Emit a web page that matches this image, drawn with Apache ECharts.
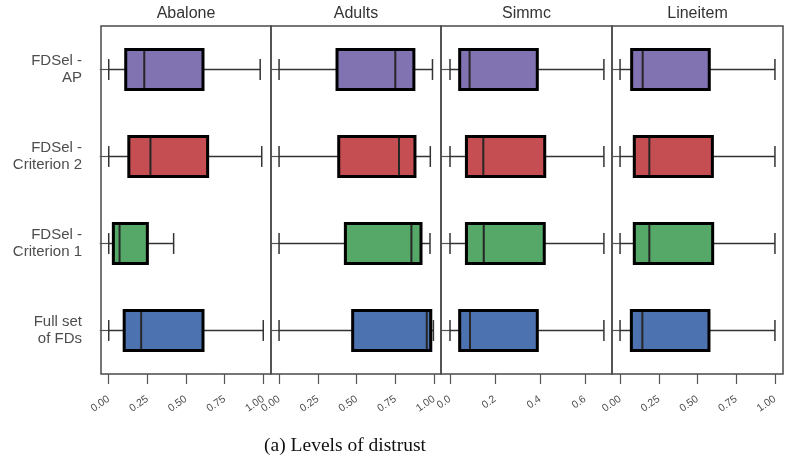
<!DOCTYPE html>
<html><head><meta charset="utf-8">
<script src="https://cdn.jsdelivr.net/npm/echarts@6/dist/echarts.min.js"></script>
<style>html,body{margin:0;padding:0;background:#fff}#c{width:786px;height:471px}</style>
</head><body><div id="c"></div>
<script>
const panels = ["Abalone", "Adults", "Simmc", "Lineitem"];
const categories = ["FDSel -\nAP", "FDSel -\nCriterion 2", "FDSel -\nCriterion 1", "Full set\nof FDs"];
// each row: [low whisker, Q1, median, Q3, high whisker], in category order
const abalone = [[0, 0.11, 0.23, 0.61, 0.98], [0, 0.13, 0.27, 0.64, 0.99], [0, 0.03, 0.07, 0.25, 0.42], [0, 0.10, 0.21, 0.61, 1.0]];
const adults = [[0, 0.374, 0.75, 0.87, 0.99], [0, 0.385, 0.774, 0.877, 0.976], [0, 0.428, 0.854, 0.916, 0.974], [0, 0.475, 0.953, 0.979, 0.996]];
const simmc = [[0, 0.043, 0.087, 0.388, 0.684], [0, 0.073, 0.148, 0.421, 0.684], [0, 0.073, 0.15, 0.419, 0.684], [0, 0.043, 0.089, 0.388, 0.684]];
const lineitem = [[0, 0.075, 0.146, 0.576, 1.0], [0, 0.092, 0.189, 0.596, 1.0], [0, 0.092, 0.189, 0.598, 1.0], [0, 0.073, 0.144, 0.574, 1.0]];
const tickValuesUnit = [0, 0.25, 0.5, 0.75, 1];
const tickLabelsUnit = ["0.00", "0.25", "0.50", "0.75", "1.00"];
const tickValuesSimmc = [0, 0.2, 0.4, 0.6];
const tickLabelsSimmc = ["0.0", "0.2", "0.4", "0.6"];
const colors = ["#8172b2", "#c44e52", "#55a868", "#4c72b0"];
const caption = "(a) Levels of distrust";

const panelData = [abalone, adults, simmc, lineitem];
const panelTicks = [[tickValuesUnit, tickLabelsUnit], [tickValuesUnit, tickLabelsUnit], [tickValuesSimmc, tickLabelsSimmc], [tickValuesUnit, tickLabelsUnit]];
const layout = [
  {left: 101, width: 170, min: -0.05, max: 1.05},
  {left: 271, width: 170, min: -0.052, max: 1.045},
  {left: 441, width: 171, min: -0.04, max: 0.72},
  {left: 612, width: 171, min: -0.052, max: 1.052}
];
const TOP = 26, HEIGHT = 348;

function renderItem(params, api) {
  const ci = api.value(0);
  const vals = [api.value(1), api.value(2), api.value(3), api.value(4), api.value(5)];
  const xs = vals.map(v => api.coord([v, ci])[0]);
  const cy = api.coord([vals[0], ci])[1];
  const band = api.size([0, 1])[1];
  const bh = band * 0.46, ch = band * 0.24;
  const ws = {stroke: '#333', lineWidth: 1.5};
  return {
    type: 'group',
    children: [
      {type: 'line', shape: {x1: xs[0], y1: cy, x2: xs[1], y2: cy}, style: ws},
      {type: 'line', shape: {x1: xs[3], y1: cy, x2: xs[4], y2: cy}, style: ws},
      {type: 'line', shape: {x1: xs[0], y1: cy - ch / 2, x2: xs[0], y2: cy + ch / 2}, style: ws},
      {type: 'line', shape: {x1: xs[4], y1: cy - ch / 2, x2: xs[4], y2: cy + ch / 2}, style: ws},
      {type: 'rect', shape: {x: xs[1], y: cy - bh / 2, width: xs[3] - xs[1], height: bh},
        style: {fill: colors[ci], stroke: '#000', lineWidth: 3}},
      {type: 'line', shape: {x1: xs[2], y1: cy - bh / 2 + 1.5, x2: xs[2], y2: cy + bh / 2 - 1.5},
        style: {stroke: '#262626', lineWidth: 2}}
    ]
  };
}

const grids = [], xAxes = [], yAxes = [], series = [], graphics = [];
panels.forEach((name, i) => {
  const L = layout[i];
  grids.push({left: L.left, top: TOP, width: L.width, height: HEIGHT, show: true,
    borderColor: '#4a4a4a', borderWidth: 1.5, backgroundColor: 'transparent'});
  const [tv, tl] = panelTicks[i];
  xAxes.push({
    type: 'value', gridIndex: i, min: L.min, max: L.max,
    axisLine: {show: false}, splitLine: {show: false},
    axisTick: {show: true, length: 10, customValues: tv, lineStyle: {color: '#555', width: 1.2}},
    axisLabel: {customValues: tv, rotate: 35, margin: 24, fontSize: 10.5, color: '#4d4d4d',
      fontFamily: 'Liberation Sans',
      formatter: v => { const k = tv.findIndex(t => Math.abs(t - v) < 1e-9); return k >= 0 ? tl[k] : ''; }}
  });
  yAxes.push({
    type: 'category', gridIndex: i, data: categories, inverse: true,
    axisLine: {show: false}, splitLine: {show: false},
    axisTick: {show: true, alignWithLabel: true, length: 9, lineStyle: {color: '#555', width: 1.2}},
    axisLabel: {show: i === 0, margin: 19, fontSize: 15, lineHeight: 17, color: '#4d4d4d',
      fontFamily: 'Liberation Sans', align: 'right'}
  });
  series.push({
    type: 'custom', xAxisIndex: i, yAxisIndex: i, renderItem: renderItem,
    encode: {x: [1, 2, 3, 4, 5], y: 0},
    data: panelData[i].map((r, ci) => [ci].concat(r))
  });
  graphics.push({type: 'text', x: L.left + L.width / 2, y: 14,
    style: {text: name, textAlign: 'center', textVerticalAlign: 'middle', fontSize: 16,
      fontFamily: 'Liberation Sans', fill: '#333'}});
});
graphics.push({type: 'text', x: 345, y: 446,
  style: {text: caption, textAlign: 'center', textVerticalAlign: 'middle', fontSize: 19.5,
    fontFamily: 'Liberation Serif', fill: '#111'}});

const chart = echarts.init(document.getElementById('c'), null, {renderer: 'canvas'});
chart.setOption({
  animation: false,
  backgroundColor: '#fff',
  grid: grids, xAxis: xAxes, yAxis: yAxes, series: series, graphic: graphics
});
</script></body></html>
